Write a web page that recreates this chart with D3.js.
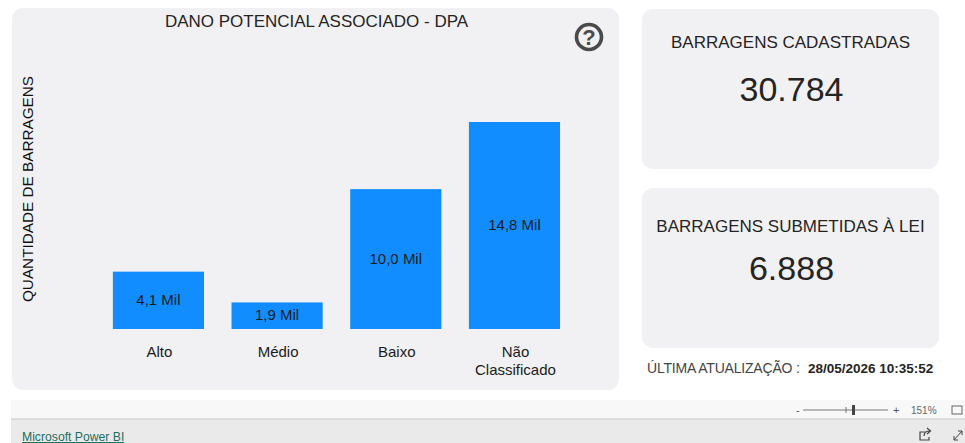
<!DOCTYPE html>
<html><head><meta charset="utf-8">
<style>html,body{margin:0;padding:0;background:#fff;overflow:hidden}svg{display:block}text{font-family:"Liberation Sans",Arial,sans-serif}</style>
<script src="https://cdn.jsdelivr.net/npm/d3@7"></script></head><body>
<svg id="c" width="965" height="443"></svg>
<script>
const categories = [["Alto"],["Médio"],["Baixo"],["Não","Classificado"]];
const keys = ["Alto","Médio","Baixo","Não Classificado"];
const values = [4.1,1.9,10.0,14.8];
const valueLabels = ["4,1 Mil","1,9 Mil","10,0 Mil","14,8 Mil"];
const cards = [
 {x:642,y:9,w:297,h:160,title:"BARRAGENS CADASTRADAS",value:"30.784",ty:48,vy:101},
 {x:642,y:188,w:297,h:160,title:"BARRAGENS SUBMETIDAS À LEI",value:"6.888",ty:232,vy:280}
];
const svg = d3.select("#c");
const TXT="#252423";
svg.append("rect").attr("x",12).attr("y",8).attr("width",607).attr("height",382).attr("rx",11).attr("fill","#f1f1f3");
cards.forEach(c=>{
  svg.append("rect").attr("x",c.x).attr("y",c.y).attr("width",c.w).attr("height",c.h).attr("rx",11).attr("fill","#f1f1f3");
  svg.append("text").attr("x",c.x+c.w/2).attr("y",c.ty).attr("text-anchor","middle").attr("font-size",17).attr("fill",TXT).text(c.title);
  svg.append("text").attr("x",c.x+c.w/2+1).attr("y",c.vy).attr("text-anchor","middle").attr("font-size",34).attr("fill",TXT).text(c.value);
});
svg.append("text").attr("x",316.5).attr("y",27).attr("text-anchor","middle").attr("font-size",17).attr("fill",TXT).text("DANO POTENCIAL ASSOCIADO - DPA");
svg.append("text").attr("transform","translate(33,189) rotate(-90)").attr("text-anchor","middle").attr("font-size",15.3).attr("fill","#111").text("QUANTIDADE DE BARRAGENS");
const g=svg.append("g").attr("transform","translate(589,37)");
g.append("circle").attr("r",12.5).attr("fill","none").attr("stroke","#4a4a4a").attr("stroke-width",3.6);
g.append("text").attr("y",8).attr("text-anchor","middle").attr("font-size",22).attr("font-weight","bold").attr("fill","#4a4a4a").text("?");
const x=d3.scaleBand().domain(keys).range([99.1,573.8]).paddingInner(0.2322).paddingOuter(0.116);
const y=d3.scaleLinear().domain([0,14.8]).range([329,122]);
svg.append("g").selectAll("rect").data(values).join("rect")
 .attr("x",(d,i)=>x(keys[i])).attr("y",d=>y(d)).attr("width",x.bandwidth()).attr("height",d=>y(0)-y(d)).attr("fill","#118dff");
svg.append("g").selectAll("text").data(values).join("text")
 .attr("x",(d,i)=>x(keys[i])+x.bandwidth()/2).attr("y",d=>(y(d)+y(0))/2+4.5).attr("text-anchor","middle").attr("font-size",15).attr("fill","#1b1b1b").text((d,i)=>valueLabels[i]);
const ax=svg.append("g").attr("transform","translate(1,329)").call(d3.axisBottom(x).tickSize(0).tickFormat(""));
ax.select(".domain").remove();
ax.selectAll(".tick").each(function(d,i){
  const t=d3.select(this).append("text").attr("text-anchor","middle").attr("font-size",15).attr("fill","#1b1b1b");
  categories[i].forEach((l,j)=>t.append("tspan").attr("x",0).attr("y",28+j*18).text(l));
});
const u=svg.append("text").attr("x",647).attr("y",373).attr("font-size",14).attr("fill","#444");
u.append("tspan").attr("letter-spacing",-0.2).text("ÚLTIMA ATUALIZAÇÃO :");
u.append("tspan").attr("x",808).attr("font-weight","bold").attr("font-size",13.5).attr("fill","#252423").text("28/05/2026 10:35:52");
svg.append("rect").attr("x",11).attr("y",400).attr("width",954).attr("height",19).attr("fill","#f8f8f8");
svg.append("rect").attr("x",11).attr("y",419).attr("width",954).attr("height",24).attr("fill","#eaeaea");
svg.append("line").attr("x1",11).attr("x2",965).attr("y1",419).attr("y2",419).attr("stroke","#c8c8c8");
svg.append("text").attr("x",22).attr("y",441).attr("font-size",12.2).attr("fill","#1f6e5e").attr("text-decoration","underline").attr("font-family","Open Sans").text("Microsoft Power BI");
svg.append("text").attr("x",796).attr("y",414).attr("font-size",11).attr("fill","#555").text("-");
svg.append("line").attr("x1",803).attr("x2",888).attr("y1",410).attr("y2",410).attr("stroke","#777");
svg.append("line").attr("x1",846).attr("x2",846).attr("y1",407).attr("y2",413).attr("stroke","#777");
svg.append("rect").attr("x",852).attr("y",405).attr("width",3).attr("height",10).attr("fill","#444");
svg.append("text").attr("x",893).attr("y",414).attr("font-size",11).attr("fill","#555").text("+");
svg.append("text").attr("x",911).attr("y",414).attr("font-size",10).attr("fill","#666").text("151%");
svg.append("rect").attr("x",952).attr("y",406).attr("width",10).attr("height",8).attr("fill","none").attr("stroke","#666");
svg.append("path").attr("d","M926 432h-6v8h9v-3M924 436c0-4 3-5 6-5M927 428l3.500 3-3.500 3").attr("fill","none").attr("stroke","#444").attr("stroke-width",1.2);
svg.append("path").attr("d","M954 440l8-9M958 431h4v4M954 436v4h4").attr("fill","none").attr("stroke","#444");
</script></body></html>
